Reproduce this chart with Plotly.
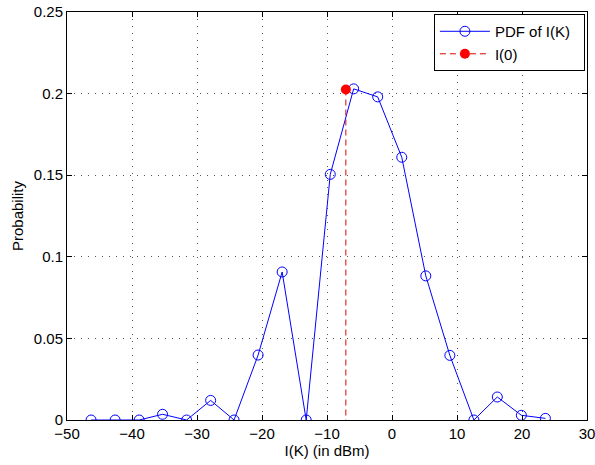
import plotly.graph_objects as go

# PDF of I(K)
ik_dbm = [-46.3, -42.6, -38.9, -35.3, -31.6, -27.9, -24.3, -20.6, -16.9, -13.2,
          -9.5, -5.9, -2.2, 1.5, 5.2, 8.9, 12.6, 16.2, 19.9, 23.6]
pdf_vals = [0.0, 0.0, 0.0, 0.0035, 0.0, 0.012, 0.0, 0.0398, 0.0907, 0.0,
            0.1505, 0.2029, 0.198, 0.161, 0.0883, 0.0396, 0.0, 0.0141, 0.0029, 0.001]

# I(0) stem
i0_x = -7.1
i0_y = 0.2025

x_ticks = [-50, -40, -30, -20, -10, 0, 10, 20, 30]
y_ticks = [0, 0.05, 0.1, 0.15, 0.2, 0.25]

fig = go.Figure()
fig.add_trace(go.Scatter(
    x=ik_dbm, y=pdf_vals, mode="lines+markers", name="PDF of I(K)\u00a0\u00a0",
    line=dict(color="#0000ff", width=1),
    marker=dict(symbol="circle-open", size=10, color="#0000ff", line=dict(width=1, color="#0000ff")),
))
fig.add_trace(go.Scatter(
    x=[i0_x, i0_x], y=[i0_y, 0], mode="lines+markers", name="I(0)",
    line=dict(color="#e00000", width=1, dash="6px,4px"),
    marker=dict(symbol="circle", size=10, color=["#ff0000", "rgba(0,0,0,0)"], line=dict(width=0)),
))

axis_common = dict(
    showline=True, linecolor="black", linewidth=1, mirror="allticks",
    ticks="inside", ticklen=5, tickcolor="black", tickwidth=1,
    showgrid=True, gridcolor="#555555", griddash="1px,6px", gridwidth=1,
    zeroline=False, tickfont=dict(size=15, color="black"), automargin=False,
    ticklabeloverflow="allow",
)
fig.update_xaxes(range=[-50, 30], tickvals=x_ticks, **axis_common,
                 title=dict(text="I(K) (in dBm)", font=dict(size=15, color="black"), standoff=2))
fig.update_yaxes(range=[0, 0.25], tickvals=y_ticks, **axis_common,
                 title=dict(text="Probability", font=dict(size=15, color="black"), standoff=6))

fig.update_layout(
    width=595, height=465,
    margin=dict(l=67, r=8, t=12, b=45),
    paper_bgcolor="white", plot_bgcolor="white",
    font=dict(family="Liberation Sans, Arial, sans-serif", size=15, color="black"),
    legend=dict(x=0.996, y=0.995, xanchor="right", yanchor="top",
                bordercolor="black", borderwidth=1, bgcolor="white",
                font=dict(size=15), tracegroupgap=0, itemwidth=50),
    showlegend=True,
)

fig.write_html("out.html", config={"displayModeBar": False},
               post_script="document.body.style.margin='0';")
